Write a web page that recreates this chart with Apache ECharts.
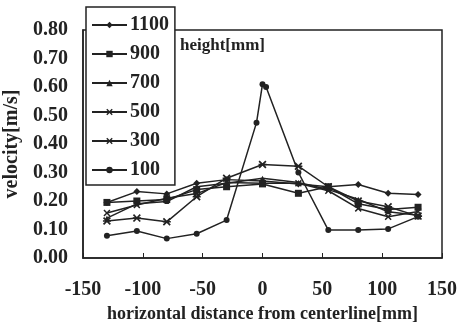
<!DOCTYPE html>
<html>
<head>
<meta charset="utf-8">
<script src="https://cdn.jsdelivr.net/npm/echarts@6/dist/echarts.min.js"></script>
<style>
  html, body { margin: 0; padding: 0; background: #fff; }
  #main { width: 457px; height: 322px; }
</style>
</head>
<body>
<div id="main"></div>
<script>
// measuring positions [mm] across the channel
const xPos = [-130, -105, -80, -55, -30, 0, 30, 55, 80, 105, 130];
const xPos100 = [-130, -105, -80, -55, -30, -5, 0, 3, 30, 55, 80, 105, 130];

// velocity [m/s] at each height
const v1100 = [0.195, 0.233, 0.225, 0.262, 0.275, 0.27, 0.26, 0.25, 0.258, 0.227, 0.223];
const v900 = [0.195, 0.200, 0.205, 0.240, 0.250, 0.260, 0.227, 0.250, 0.190, 0.170, 0.178];
const v700 = [0.140, 0.190, 0.198, 0.250, 0.262, 0.280, 0.265, 0.240, 0.206, 0.162, 0.150];
const v500 = [0.158, 0.186, 0.210, 0.226, 0.265, 0.262, 0.262, 0.236, 0.174, 0.145, 0.163];
const v300 = [0.130, 0.140, 0.127, 0.215, 0.280, 0.328, 0.322, 0.250, 0.200, 0.180, 0.147];
const v100 = [0.078, 0.095, 0.068, 0.085, 0.133, 0.475, 0.610, 0.600, 0.300, 0.098, 0.098, 0.102, 0.145];

const heights = ['1100', '900', '700', '500', '300', '100'];

const crossPath = 'path://M0,1.5L1.5,0L5,3.5L8.5,0L10,1.5L6.5,5L10,8.5L8.5,10L5,6.5L1.5,10L0,8.5L3.5,5Z';
const starPath = 'path://M0,1.5L1.5,0L5,3.5L8.5,0L10,1.5L6.5,5L10,8.5L8.5,10L5,6.5L1.5,10L0,8.5L3.5,5Z M0,4L10,4L10,6L0,6Z';

function pairs(xs, ys) {
    return xs.map(function (x, i) { return [x, ys[i]]; });
}

const ink = '#222';
const font = 'Liberation Serif';

function makeSeries(name, xs, ys, symbol, size) {
    return {
        name: name,
        type: 'line',
        data: pairs(xs, ys),
        symbol: symbol,
        symbolSize: size,
        lineStyle: { color: ink, width: 1.5 },
        itemStyle: { color: ink },
        animation: false
    };
}

let chart = echarts.init(document.getElementById('main'));
chart.setOption({
    backgroundColor: '#fff',
    grid: {
        left: 83, right: 15, top: 30, bottom: 64,
        outerBoundsMode: 'none',
        show: true, borderColor: ink, borderWidth: 1.5
    },
    legend: {
        orient: 'vertical',
        left: 86, top: 7,
        data: heights,
        padding: [8, 6, 5, 5],
        itemWidth: 35, itemHeight: 8, itemGap: 9,
        backgroundColor: '#fff',
        borderColor: ink, borderWidth: 1.5,
        textStyle: { fontFamily: font, fontWeight: 'bold', fontSize: 20, color: ink, padding: [0, 0, 0, -2] }
    },
    graphic: [{
        type: 'text', left: 180, top: 37,
        style: { text: 'height[mm]', font: 'bold 17px "Liberation Serif"', fill: ink }
    }],
    xAxis: {
        type: 'value', min: -150, max: 150, interval: 50,
        name: 'horizontal distance from centerline[mm]',
        nameLocation: 'middle', nameGap: 33,
        nameTextStyle: { fontFamily: font, fontWeight: 'bold', fontSize: 18, color: ink },
        axisLine: { onZero: false, lineStyle: { color: ink, width: 1.5 } },
        axisTick: { inside: true, length: 5, lineStyle: { color: ink } },
        axisLabel: { margin: 22, fontFamily: font, fontWeight: 'bold', fontSize: 20, color: ink },
        splitLine: { show: false }
    },
    yAxis: {
        type: 'value', min: 0, max: 0.8, interval: 0.1,
        name: 'velocity[m/s]',
        nameLocation: 'middle', nameGap: 58,
        nameTextStyle: { fontFamily: font, fontWeight: 'bold', fontSize: 20, color: ink },
        axisLine: { show: true, onZero: false, lineStyle: { color: ink, width: 1.5 } },
        axisTick: { show: false },
        axisLabel: {
            margin: 15, fontFamily: font, fontWeight: 'bold', fontSize: 20, color: ink,
            formatter: function (v) { return v.toFixed(2); }
        },
        splitLine: { show: false }
    },
    series: [
        makeSeries('1100', xPos, v1100, 'diamond', 7),
        makeSeries('900', xPos, v900, 'rect', 7),
        makeSeries('700', xPos, v700, 'triangle', 5),
        makeSeries('500', xPos, v500, crossPath, 7),
        makeSeries('300', xPos, v300, starPath, 8),
        makeSeries('100', xPos100, v100, 'circle', 6)
    ]
});
</script>
</body>
</html>
